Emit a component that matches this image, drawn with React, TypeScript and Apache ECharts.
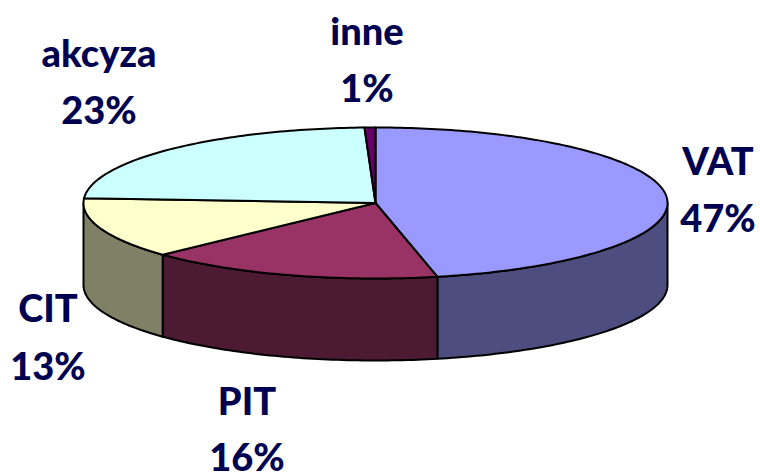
import React, { useEffect, useRef } from "react";
import * as echarts from "echarts";

const categories = ["VAT", "PIT", "CIT", "akcyza", "inne"];
const shares = [46.6, 16.4, 13, 23.4, 0.6];
const percentLabels = ["47%", "16%", "13%", "23%", "1%"];
const topColors = ["#9999FF", "#993366", "#FFFFCC", "#CCFFFF", "#660066"];
const sideColors = ["#4D4D80", "#4D1A33", "#808066", "#668080", "#330033"];
const labelCenters = [
  [718, 160, 217],
  [247, 400, 456],
  [48, 307, 365],
  [99, 52, 109],
  [367, 30, 87],
];

const CX = 375.5;
const CY = 203;
const RX = 292;
const RY = 75.5;
const DEPTH = 82;
const TEXT = "#000050";
const FONT = '900 38px Lato, "Open Sans", sans-serif';

const total = shares.reduce((a, b) => a + b, 0);
const pt = (deg: number, dy = 0): number[] => {
  const r = (deg * Math.PI) / 180;
  return [CX + RX * Math.sin(r), CY - RY * Math.cos(r) + dy];
};
const arc = (a: number, b: number, dy = 0): number[][] => {
  const n = Math.max(2, Math.ceil(Math.abs(b - a)));
  const out: number[][] = [];
  for (let i = 0; i <= n; i++) out.push(pt(a + ((b - a) * i) / n, dy));
  return out;
};

export default function App() {
  const ref = useRef<HTMLDivElement>(null);
  useEffect(() => {
    document.body.style.margin = "0";
    document.body.style.background = "#fff";
    const chart = echarts.init(ref.current!, null, { renderer: "svg" });
    chart.setOption({
      animation: false,
      backgroundColor: "#ffffff",
      series: [
        {
          type: "custom",
          coordinateSystem: "none",
          silent: true,
          data: categories.map((name, i) => ({ name, value: shares[i] })),
          renderItem: (params: any) => {
            const i = params.dataIndex;
            const before = shares.slice(0, i).reduce((a, b) => a + b, 0);
            const start = (before / total) * 360;
            const end = ((before + shares[i]) / total) * 360;
            const children: any[] = [];
            const from = Math.max(start, 90);
            const to = Math.min(end, 270);
            const lineStyle = { stroke: "#000", lineWidth: 2, lineJoin: "round" };
            if (to > from) {
              children.push({
                type: "polygon",
                shape: { points: [...arc(from, to), ...arc(to, from, DEPTH)] },
                style: { fill: sideColors[i], ...lineStyle },
              });
            }
            children.push({
              type: "polygon",
              z2: 2,
              shape: { points: [[CX, CY], ...arc(start, end)] },
              style: { fill: topColors[i], ...lineStyle },
            });
            const [x, y1, y2] = labelCenters[i];
            [categories[i], percentLabels[i]].forEach((text, k) => {
              children.push({
                type: "text",
                z2: 3,
                style: {
                  text,
                  x,
                  y: k === 0 ? y1 : y2,
                  fill: TEXT,
                  font: FONT,
                  textAlign: "center",
                  textVerticalAlign: "middle",
                },
              });
            });
            return { type: "group", children };
          },
        },
      ],
    });
    return () => chart.dispose();
  }, []);
  return <div ref={ref} style={{ width: 760, height: 472 }} />;
}
